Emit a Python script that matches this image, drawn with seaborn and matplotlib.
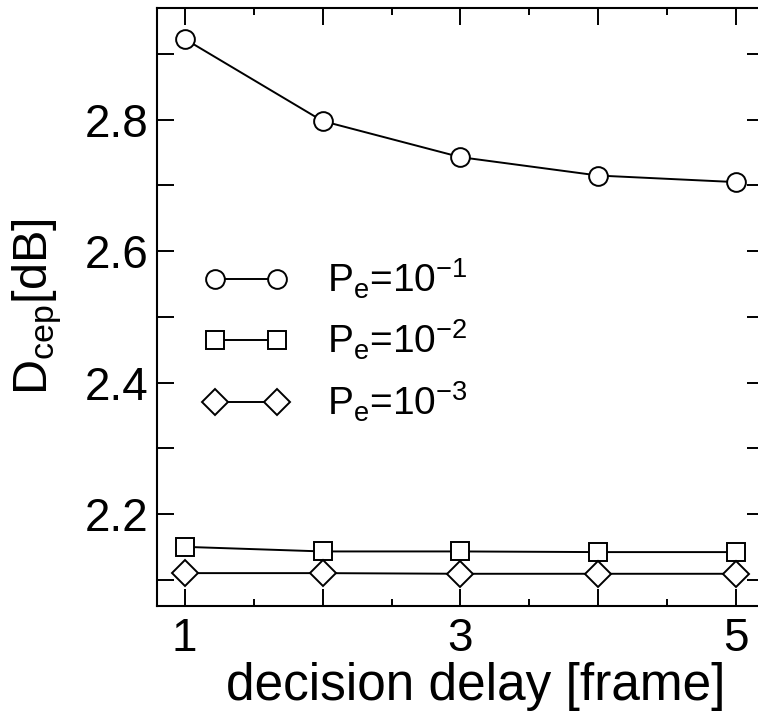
import numpy as np
import pandas as pd
import matplotlib
matplotlib.use("Agg")
import matplotlib.pyplot as plt
import seaborn as sns

# values
delay = [1, 2, 3, 4, 5]
pe1 = [2.923, 2.798, 2.743, 2.715, 2.705]
pe2 = [2.150, 2.143, 2.143, 2.142, 2.142]
pe3 = [2.110, 2.110, 2.109, 2.109, 2.109]
labels = [r"P$_{\mathrm{e}}$=10$^{-1}$",
          r"P$_{\mathrm{e}}$=10$^{-2}$",
          r"P$_{\mathrm{e}}$=10$^{-3}$"]
markers = ["o", "s", "D"]

sns.set_style("ticks")
plt.rcParams["font.family"] = ["Liberation Sans", "DejaVu Sans"]
plt.rcParams["mathtext.fontset"] = "custom"
plt.rcParams["mathtext.rm"] = "Liberation Sans"
plt.rcParams["mathtext.it"] = "Liberation Sans:italic"
plt.rcParams["mathtext.bf"] = "Liberation Sans:bold"
plt.rcParams["axes.labelcolor"] = "black"
plt.rcParams["text.color"] = "black"

fig = plt.figure(figsize=(7.58, 7.13), dpi=100)
ax = fig.add_axes([0.2071, 0.1501, 0.8008, 0.8387])

for ys, m, lab in zip([pe1, pe2, pe3], markers, labels):
    df = pd.DataFrame({"delay": delay, "D": ys})
    sns.lineplot(data=df, x="delay", y="D", ax=ax, color="black", lw=1.4,
                 marker=m, ms=13.5, mfc="white", mec="black", mew=1.4,
                 label=lab, zorder=3)

ax.set_xlim(0.8, 5.2)
ax.set_ylim(2.06, 2.97)

ax.set_xticks([1, 2, 3, 4, 5])
ax.set_xticklabels(["1", "", "3", "", "5"])
ax.set_xticks([1.5, 2.5, 3.5, 4.5], minor=True)
ax.set_yticks([2.2, 2.4, 2.6, 2.8])
ax.set_yticks([2.1, 2.3, 2.5, 2.7, 2.9], minor=True)

ax.tick_params(which="both", direction="in", top=True, right=True,
               width=1.4, labelsize=33, pad=6, colors="black")
ax.tick_params(axis="y", which="both", length=12.5)
ax.tick_params(axis="x", which="major", length=12.5, pad=8)
ax.tick_params(axis="x", which="minor", length=5)

for sp in ax.spines.values():
    sp.set_linewidth(1.5)
    sp.set_color("black")
# the right frame edge falls just outside the picture
ax.spines["right"].set_visible(False)

ax.set_xlabel("decision delay [frame]", fontsize=37, labelpad=1)
ax.xaxis.label.set_x(0.525)
ax.set_ylabel(r"D$_{\mathrm{cep}}$[dB]", fontsize=35, labelpad=15)

leg = ax.legend(loc="upper left", bbox_to_anchor=(0.05, 0.61), numpoints=2,
                frameon=False, fontsize=28, handlelength=2.2,
                handletextpad=1.0, labelspacing=0.45, borderaxespad=0)

fig.savefig("out.png", dpi=100)
